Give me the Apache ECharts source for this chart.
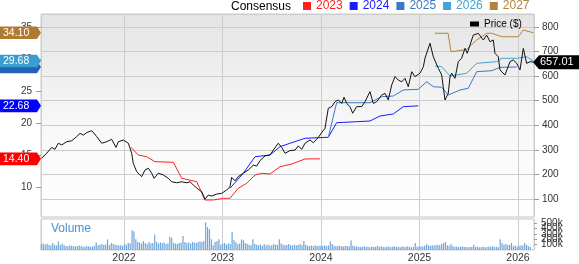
<!DOCTYPE html>
<html><head><meta charset="utf-8">
<script src="https://cdn.jsdelivr.net/npm/echarts@6/dist/echarts.min.js"></script>
<style>html,body{margin:0;padding:0;background:#fff}#c{width:579px;height:264px}</style>
</head><body><div id="c"></div>
<script>
// ---- data (x in decimal years) ----
const yearTicks = [2022, 2023, 2024, 2025, 2026];
const legendNames = ['2023', '2024', '2025', '2026', '2027'];

const priceT = [2021.164,2021.215,2021.266,2021.299,2021.333,2021.368,2021.418,2021.469,2021.520,2021.553,
2021.587,2021.621,2021.672,2021.723,2021.774,2021.824,2021.875,2021.919,2021.942,2021.993,
2022.044,2022.078,2022.094,2022.129,2022.180,2022.213,2022.247,2022.281,2022.305,2022.348,
2022.399,2022.450,2022.484,2022.535,2022.586,2022.637,2022.670,2022.704,2022.754,2022.789,
2022.822,2022.856,2022.890,2022.941,2022.992,2023.043,2023.076,2023.093,2023.127,2023.160,
2023.211,2023.262,2023.313,2023.347,2023.381,2023.431,2023.482,2023.516,2023.566,2023.601,
2023.635,2023.685,2023.736,2023.770,2023.804,2023.838,2023.888,2023.922,2023.973,2024.007,
2024.041,2024.074,2024.109,2024.142,2024.176,2024.210,2024.234,2024.261,2024.294,2024.322,
2024.362,2024.413,2024.447,2024.497,2024.531,2024.565,2024.616,2024.650,2024.683,2024.718,
2024.751,2024.785,2024.819,2024.853,2024.886,2024.921,2024.954,2025.005,2025.039,2025.056,
2025.107,2025.140,2025.191,2025.225,2025.259,2025.292,2025.310,2025.327,2025.360,2025.394,
2025.428,2025.462,2025.485,2025.513,2025.546,2025.597,2025.614,2025.648,2025.682,2025.716,
2025.749,2025.766,2025.800,2025.817,2025.868,2025.885,2025.919,2025.952,2025.987,2026.020,
2026.054,2026.088,2026.122,2026.155];
const priceV = [266,286,310,302,327,320,333,337,354,367,
360,370,378,354,327,333,343,310,333,340,
327,286,245,211,191,218,225,205,184,205,
198,184,170,166,170,166,170,157,139,130,
99,116,112,120,123,137,150,188,174,191,
205,218,238,234,256,275,279,299,327,310,
286,297,299,316,302,327,340,329,351,370,
388,469,476,496,503,489,514,489,476,449,
476,476,496,537,489,496,523,530,503,564,
598,584,577,591,557,618,598,612,638,673,
734,679,632,605,503,530,598,612,591,659,
673,713,693,727,767,774,781,747,767,740,
747,693,679,625,605,598,659,666,652,625,
713,652,659,657.01];

const e23T = [2022.071,2022.145,2022.230,2022.315,2022.501,2022.586,2022.738,2022.822,2022.907,2023.008,2023.076,2023.160,2023.246,2023.330,2023.398,2023.482,2023.584,2023.703,2023.838,2023.990];
const e23V = [16.20,15.00,14.73,13.95,13.86,11.36,10.83,7.97,7.97,8.23,8.23,9.80,10.58,11.88,12.14,12.03,13.17,13.59,14.38,14.40];

const e24T = [2023.076,2023.211,2023.330,2023.482,2023.584,2023.685,2023.838,2024.074,2024.159,2024.362,2024.497,2024.599,2024.734,2024.836,2024.988];
const e24V = [9.80,12.14,14.73,15.00,16.30,16.83,17.61,17.77,20.05,20.20,20.31,21.09,21.41,22.55,22.68];

const e25T = [2024.074,2024.159,2024.497,2024.616,2024.734,2024.836,2024.988,2025.073,2025.140,2025.225,2025.292,2025.411,2025.495,2025.581,2025.733,2025.817,2025.987];
const e25V = [17.77,23.17,23.17,24.11,24.22,25.16,25.27,26.45,25.67,25.58,24.37,25.16,25.42,28.02,28.17,28.70,28.75];

const e26T = [2025.157,2025.225,2025.310,2025.479,2025.581,2025.784,2025.835,2025.987,2026.088,2026.155];
const e26V = [28.91,28.80,27.34,27.77,29.33,29.58,30.11,30.11,30.36,29.68];

const e27T = [2025.157,2025.290,2025.320,2025.445,2025.479,2025.581,2025.682,2025.733,2025.835,2026.003,2026.054,2026.155];
const e27V = [34.02,34.02,31.14,31.41,31.52,32.97,34.02,34.02,33.48,33.48,34.53,34.10];

// weekly volume (thousands), first week starting 2021-03-01
const volStart = 2021.162;
const volK = [
110,120,100,115, 95,90,130,100, 85,160,95,120, 90,75,70,85, 80,70,65,75, 85,70,65,60, 75,70,60,65, 80,140,90,100, 110,95,105,200, 90,130,110,100, 95,85,90,80,
110,100,130,120, 370,350,200,150, 140,120,170,130, 110,150,120,130, 290,150,120,140, 130,140,110,120, 250,230,130,120, 110,130,140,260, 150,130,140,120, 150,140,130,150, 160,150,170,520, 430,390,200,90, 150,170,200,100,
120,130,100,120, 110,340,190,150, 110,120,200,180, 130,110,100,90, 200,110,100,90, 100,80,110,90, 100,85,90,110, 100,95,200,120, 100,90,95,110, 90,85,100,90, 95,110,90,170, 100,80,70,85, 70,90,75,80,
80,75,90,70, 85,160,110,80, 70,75,80,70, 65,80,75,70, 180,80,70,65, 60,55,60,70, 55,60,50,65, 55,60,80,60, 70,55,50,60, 65,55,60,70, 55,60,50,65, 60,55,70,60, 50,60,130,60,
60,70,65,80, 110,85,80,90, 85,95,100,90, 110,130,150,90, 80,110,70,60, 65,55,60,70, 55,60,50,55, 60,100,55,60, 50,55,60,50, 55,65,60,70, 55,60,50,200, 130,100,110,95, 100,130,70,85,
60,80,85,90,130,95,70,55
];

// ---- styling ----
const FONT = '"Liberation Sans", Arial, Helvetica, sans-serif';
const colors = ['#ff1f1f', '#1a1aff', '#3a78c6', '#43a2d6', '#b3823c'];
const tagColors = ['#ff0000', '#0000ff', '#2262b8', '#3a9dd0', '#b07b30'];
const xMin = 2021.1574, xMax = 2026.1624;

const zip = (t, v) => t.map((x, i) => [x, v[i]]);
const eps = [[e23T, e23V], [e24T, e24V], [e25T, e25V], [e26T, e26V], [e27T, e27V]];
const volData = volK.map((v, i) => [volStart + i * 7 / 365.25, v]);

const chart = echarts.init(document.getElementById('c'), null, {renderer: 'canvas'});

const isInt = v => Math.abs(v - Math.round(v)) < 1e-6;

const option = {
  animation: false,
  textStyle: {fontFamily: FONT},
  grid: [
    {left: 41, top: 14, width: 493, height: 203, show: true, borderColor: '#cccccc', borderWidth: 1,
     backgroundColor: new echarts.graphic.LinearGradient(0, 0, 0, 1, [
       {offset: 0, color: '#e4e4e4'}, {offset: 0.55, color: '#f8f8f8'}, {offset: 1, color: '#ffffff'}])},
    {left: 41, top: 219, width: 493, height: 34, show: true, borderColor: '#cccccc', borderWidth: 1, backgroundColor: '#ffffff'}
  ],
  legend: [
    {data: legendNames.map((n, i) => ({name: n, icon: 'rect', textStyle: {color: colors[i]}})),
     left: 303, top: 0, padding: 0, itemWidth: 8, itemHeight: 8, itemGap: 7, selectedMode: false,
     textStyle: {fontSize: 12, fontFamily: FONT}},
    {data: [{name: 'Price ($)', icon: 'rect'}], left: 470, top: 19, padding: 0, itemWidth: 9, itemHeight: 5,
     selectedMode: false, textStyle: {fontSize: 10, color: '#000', fontFamily: FONT}}
  ],
  xAxis: [
    {type: 'value', gridIndex: 0, min: xMin, max: xMax, splitNumber: 5,
     axisLine: {show: false}, axisTick: {show: false}, axisLabel: {show: false},
     splitLine: {show: true, lineStyle: {color: '#cccccc', width: 1}}},
    {type: 'value', gridIndex: 1, min: xMin, max: xMax, splitNumber: 5,
     axisLine: {show: false}, axisTick: {show: false},
     axisLabel: {show: true, showMinLabel: false, showMaxLabel: false, margin: 3, fontSize: 10.5, color: '#333',
       formatter: v => (isInt(v) && yearTicks.indexOf(Math.round(v)) >= 0) ? String(Math.round(v)) : ''},
     splitLine: {show: true, lineStyle: {color: '#cccccc', width: 1}}}
  ],
  yAxis: [
    {type: 'value', gridIndex: 0, position: 'left', min: 5.3125, max: 37.03, splitNumber: 6,
     axisLine: {show: false}, axisTick: {show: true, length: 5, lineStyle: {color: '#999'}},
     axisLabel: {fontSize: 10, color: '#333', margin: 9, showMinLabel: false, showMaxLabel: false},
     splitLine: {show: false}},
    {type: 'value', gridIndex: 0, position: 'right', min: 26.7, max: 852.9, splitNumber: 8,
     axisLine: {show: false}, axisTick: {show: true, length: 5, lineStyle: {color: '#999'}},
     axisLabel: {fontSize: 10, color: '#333', margin: 8, showMinLabel: false, showMaxLabel: false},
     splitLine: {show: true, lineStyle: {color: '#cccccc', width: 1}}},
    {type: 'value', gridIndex: 1, position: 'right', min: 0, max: 580, splitNumber: 5,
     axisLine: {show: false}, axisTick: {show: true, length: 3, lineStyle: {color: '#999'}},
     axisLabel: {fontSize: 10, color: '#333', margin: 7, showMaxLabel: false, lineHeight: 8,
       formatter: v => v === 0 ? '0' : v + 'k'},
     splitLine: {show: false}}
  ],
  series: [
    ...eps.map((d, i) => ({
      name: legendNames[i], type: 'line', xAxisIndex: 0, yAxisIndex: 0, data: zip(d[0], d[1]),
      showSymbol: false, symbol: 'none', color: colors[i],
      lineStyle: {color: colors[i], width: 1}, itemStyle: {color: colors[i]}, z: 3
    })),
    {name: 'Price ($)', type: 'line', xAxisIndex: 0, yAxisIndex: 1, data: zip(priceT, priceV),
     showSymbol: false, symbol: 'none', color: '#000', lineStyle: {color: '#111', width: 1}, itemStyle: {color: '#000'}, z: 4},
    {name: 'Volume', type: 'bar', xAxisIndex: 1, yAxisIndex: 2, data: volData, barWidth: 1.2,
     itemStyle: {color: '#6ea6dc'}, z: 2}
  ]
};
chart.setOption(option);

// ---- tags and extra text, positioned through the library's scales ----
const g = [];
g.push({type: 'rect', shape: {x: 41, y: 216.5, width: 493, height: 2.5}, style: {fill: '#dedede'}, z: 10});
g.push({type: 'text', x: 231, y: 7, style: {text: 'Consensus', font: '12px ' + FONT, fill: '#000', verticalAlign: 'middle'}, z: 10});
g.push({type: 'text', x: 51, y: 229, style: {text: 'Volume', font: '12px ' + FONT, fill: '#4a8fd0', verticalAlign: 'middle'}, z: 10});

const tagY = eps.map(d => chart.convertToPixel({yAxisIndex: 0}, d[1][d[1].length - 1]));
eps.forEach((d, i) => {
  const last = d[1][d[1].length - 1];
  const y = tagY[i];
  g.push({type: 'polygon', shape: {points: [[0, y - 6.3], [37, y - 6.3], [41, y], [37, y + 6.3], [0, y + 6.3]]},
          style: {fill: tagColors[i]}, z: 20 + i});
  // a tag that is mostly covered by the next one keeps only its edge visible
  const covered = i < eps.length - 1 && Math.abs(tagY[i + 1] - y) < 9;
  if (!covered) {
    g.push({type: 'text', x: 3, y: y, style: {text: last.toFixed(2), font: '10.5px ' + FONT, fill: '#fff', verticalAlign: 'middle'}, z: 20 + i});
  }
});
const lastP = priceV[priceV.length - 1];
const py = chart.convertToPixel({yAxisIndex: 1}, lastP);
g.push({type: 'polygon', shape: {points: [[533, py], [539, py - 7], [579, py - 7], [579, py + 7], [539, py + 7]]},
        style: {fill: '#000'}, z: 30});
g.push({type: 'text', x: 540, y: py, style: {text: lastP.toFixed(2), font: '11px ' + FONT, fill: '#fff', verticalAlign: 'middle'}, z: 31});

chart.setOption({graphic: g});
</script>
</body></html>
